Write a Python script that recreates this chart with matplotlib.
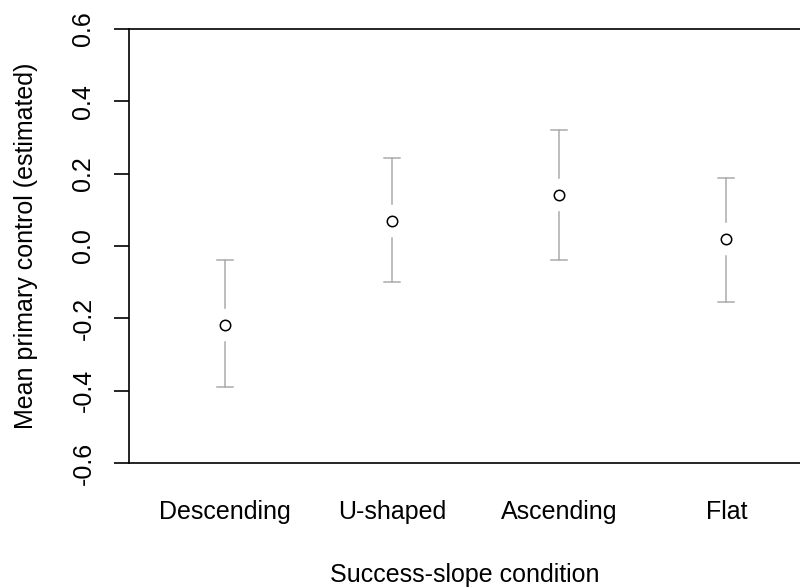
import matplotlib.pyplot as plt

plt.rcParams['font.family'] = ['Liberation Sans', 'DejaVu Sans']

conditions = ["Descending", "U-shaped", "Ascending", "Flat"]
means = [-0.218, 0.069, 0.141, 0.019]
ci_low = [-0.389, -0.100, -0.038, -0.155]
ci_high = [-0.039, 0.243, 0.321, 0.189]

fig = plt.figure(figsize=(8, 5.88), dpi=100)
ax = fig.add_axes([0.161, 0.2126, 0.839, 0.7381])

xs = list(range(1, len(conditions) + 1))
gap = 0.047
cap = 0.048
bar_col = "#ababab"
for x, m, lo, hi in zip(xs, means, ci_low, ci_high):
    # whiskers with a gap around the point, like R's arrows()
    ax.plot([x, x], [hi, m + gap], color=bar_col, lw=1.1)
    ax.plot([x, x], [m - gap, lo], color=bar_col, lw=1.1)
    ax.plot([x - cap, x + cap], [hi, hi], color=bar_col, lw=1.1)
    ax.plot([x - cap, x + cap], [lo, lo], color=bar_col, lw=1.1)

ax.plot(xs, means, "o", mfc="white", mec="black", mew=1.1, ms=7.5, zorder=3)

ax.set_xlim(0.425, 4.44)
ax.set_ylim(-0.6, 0.6)
ax.set_yticks([-0.6, -0.4, -0.2, 0.0, 0.2, 0.4, 0.6])
ax.set_yticklabels(["-0.6", "-0.4", "-0.2", "0.0", "0.2", "0.4", "0.6"],
                   rotation=90, va="center", fontsize=18)
ax.set_xticks(xs)
ax.set_xticklabels(conditions, fontsize=18)
ax.tick_params(axis="x", length=0, pad=27)
ax.tick_params(axis="y", length=11, width=1.2, pad=13)
for s in ["left", "top", "bottom"]:
    ax.spines[s].set_linewidth(1.2)
ax.spines["right"].set_visible(False)

ax.set_xlabel("Success-slope condition", fontsize=18, labelpad=28)
ax.set_ylabel("Mean primary control (estimated)", fontsize=18, labelpad=24)

fig.savefig("out.png", dpi=100)
